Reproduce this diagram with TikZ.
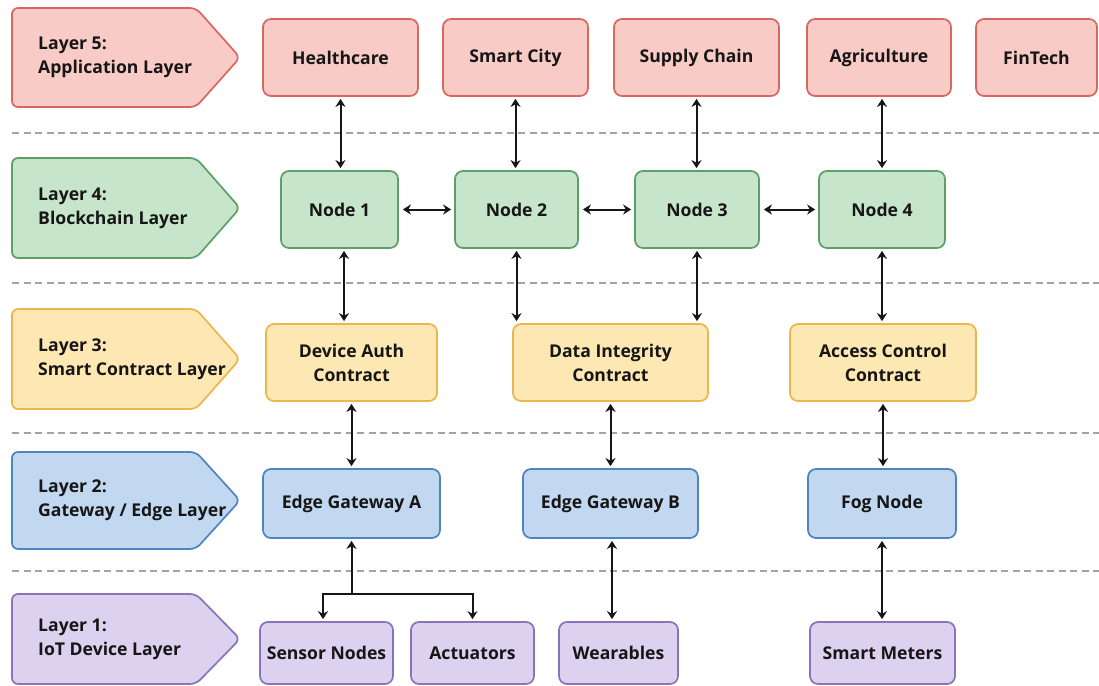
\documentclass[tikz,border=0pt]{standalone}
\usepackage{fontspec}
\setmainfont{Open Sans}
\usetikzlibrary{arrows.meta}

% layer palette: fill / outline
\definecolor{redfill}{HTML}{F9CBC6}
\definecolor{redline}{HTML}{D8675F}
\definecolor{greenfill}{HTML}{C6E5CA}
\definecolor{greenline}{HTML}{5F9E66}
\definecolor{yellowfill}{HTML}{FDE7B3}
\definecolor{yellowline}{HTML}{EDB64C}
\definecolor{bluefill}{HTML}{C1D8F0}
\definecolor{blueline}{HTML}{4E84C0}
\definecolor{purplefill}{HTML}{DDD1F0}
\definecolor{purpleline}{HTML}{8A73B9}
\definecolor{ink}{HTML}{161616}
\definecolor{sep}{HTML}{A3A3A3}

\begin{document}
\begin{tikzpicture}[x=1pt,y=-1pt,
  labelfont/.style={font=\bfseries\fontsize{17.6}{24}\selectfont, text=ink},
  box/.style={draw, rounded corners=8pt, line width=1.7pt, inner sep=0pt,
              align=center, labelfont},
  app/.style={box, fill=redfill, draw=redline},
  chain/.style={box, fill=greenfill, draw=greenline},
  contract/.style={box, fill=yellowfill, draw=yellowline},
  edge/.style={box, fill=bluefill, draw=blueline},
  device/.style={box, fill=purplefill, draw=purpleline},
  tagshape/.style={line width=1.7pt, rounded corners=6pt},
  tagtext/.style={anchor=west, align=left, inner sep=0pt, labelfont},
  divider/.style={draw=sep, line width=1.4pt, dash pattern=on 7pt off 4.5pt},
  link/.style={line width=2pt, draw=ink, shorten <=2pt, shorten >=2pt},
  biarrow/.style={link, {Stealth[length=8pt,width=10pt,inset=2.5pt]}-{Stealth[length=8pt,width=10pt,inset=2.5pt]}},
  toarrow/.style={link, -{Stealth[length=8pt,width=10pt,inset=2.5pt]}, shorten <=0pt},
]
\fill[white] (0,0) rectangle (1099,685);
\useasboundingbox (0,0) rectangle (1099,685);

% dashed separators between layers
\foreach \y in {133,283,433,571}
  \draw[divider] (12,\y) -- (1099,\y);

% layer tags
\draw[tagshape, fill=redfill, draw=redline]
  (12,8) -- (196,8) -- (240,57.5) -- (196,107) -- (12,107) -- cycle;
\node[tagtext] (t5) at (38,57.5) {Layer 5:\\Application Layer};

\draw[tagshape, fill=greenfill, draw=greenline]
  (12,158) -- (196,158) -- (240,208) -- (196,258) -- (12,258) -- cycle;
\node[tagtext] (t4) at (38,208) {Layer 4:\\Blockchain Layer};

\draw[tagshape, fill=yellowfill, draw=yellowline]
  (12,309) -- (196,309) -- (240,359) -- (196,409) -- (12,409) -- cycle;
\node[tagtext] (t3) at (38,359) {Layer 3:\\Smart Contract Layer};

\draw[tagshape, fill=bluefill, draw=blueline]
  (12,452) -- (196,452) -- (240,500.5) -- (196,549) -- (12,549) -- cycle;
\node[tagtext] (t2) at (38,500.5) {Layer 2:\\Gateway / Edge Layer};

\draw[tagshape, fill=purplefill, draw=purpleline]
  (12,594) -- (196,594) -- (240,639) -- (196,684) -- (12,684) -- cycle;
\node[tagtext] (t1) at (38,639) {Layer 1:\\IoT Device Layer};

% layer 5: applications
\node[app, minimum width=155pt, minimum height=77pt] (hc) at (340.5,57.5) {Healthcare};
\node[app, minimum width=145pt, minimum height=77pt] (sc) at (515.5,57.5) {Smart City};
\node[app, minimum width=165pt, minimum height=77pt] (su) at (696.5,57.5) {Supply Chain};
\node[app, minimum width=144pt, minimum height=77pt] (ag) at (879,57.5) {Agriculture};
\node[app, minimum width=121pt, minimum height=77pt] (ft) at (1036.5,57.5) {FinTech};

% layer 4: blockchain nodes
\node[chain, minimum width=117pt, minimum height=77pt] (n1) at (339.5,209.5) {Node 1};
\node[chain, minimum width=123pt, minimum height=77pt] (n2) at (516.5,209.5) {Node 2};
\node[chain, minimum width=124pt, minimum height=77pt] (n3) at (697,209.5) {Node 3};
\node[chain, minimum width=126pt, minimum height=77pt] (n4) at (882,209.5) {Node 4};

% layer 3: smart contracts
\node[contract, minimum width=171pt, minimum height=77pt] (da) at (351.5,362.5) {Device Auth\\Contract};
\node[contract, minimum width=195pt, minimum height=77pt] (di) at (610.5,362.5) {Data Integrity\\Contract};
\node[contract, minimum width=186pt, minimum height=77pt] (ac) at (883,362.5) {Access Control\\Contract};

% layer 2: gateways
\node[edge, minimum width=177pt, minimum height=69pt] (ega) at (351.5,503.5) {Edge Gateway A};
\node[edge, minimum width=175pt, minimum height=69pt] (egb) at (610.5,503.5) {Edge Gateway B};
\node[edge, minimum width=148pt, minimum height=69pt] (fog) at (882,503.5) {Fog Node};

% layer 1: devices
\node[device, minimum width=133pt, minimum height=62pt] (sn) at (326.5,653) {Sensor Nodes};
\node[device, minimum width=123pt, minimum height=62pt] (act) at (472.5,653) {Actuators};
\node[device, minimum width=119pt, minimum height=62pt] (wear) at (618.5,653) {Wearables};
\node[device, minimum width=145pt, minimum height=62pt] (sm) at (882.5,653) {Smart Meters};

% applications <-> blockchain
\draw[biarrow] (hc.south) -- (hc.south |- n1.north);
\draw[biarrow] (sc.south) -- (sc.south |- n2.north);
\draw[biarrow] (su.south) -- (su.south |- n3.north);
\draw[biarrow] (n4.north) -- (n4.north |- ag.south);

% peer links
\draw[biarrow, shorten <=4pt, shorten >=3pt] (n1.east) -- (n2.west);
\draw[biarrow, shorten <=4pt, shorten >=3pt] (n2.east) -- (n3.west);
\draw[biarrow, shorten <=4pt, shorten >=3pt] (n3.east) -- (n4.west);

% blockchain <-> contracts
\coordinate (n1a) at ([xshift=4.5pt]n1.south);
\draw[biarrow] (n1a) -- (n1a |- da.north);
\draw[biarrow] (n2.south) -- (n2.south |- di.north);
\draw[biarrow] (n3.south) -- (n3.south |- di.north);
\draw[biarrow] (n4.south) -- (n4.south |- ac.north);

% contracts <-> gateways
\draw[biarrow] (da.south) -- (da.south |- ega.north);
\draw[biarrow] (di.south) -- (di.south |- egb.north);
\draw[biarrow] (ac.south) -- (ac.south |- fog.north);

% gateways <-> devices
\coordinate (fork) at (351.5,594);
\draw[toarrow] (fork) -- (ega.south);
\draw[toarrow] (fork) -| ([xshift=-3.5pt]sn.north);
\draw[toarrow] (fork) -| (act.north);
\coordinate (egbb) at ([xshift=1.5pt]egb.south);
\draw[biarrow] (egbb) -- (egbb |- wear.north);
\draw[biarrow] (fog.south) -- (fog.south |- sm.north);
\end{tikzpicture}
\end{document}
